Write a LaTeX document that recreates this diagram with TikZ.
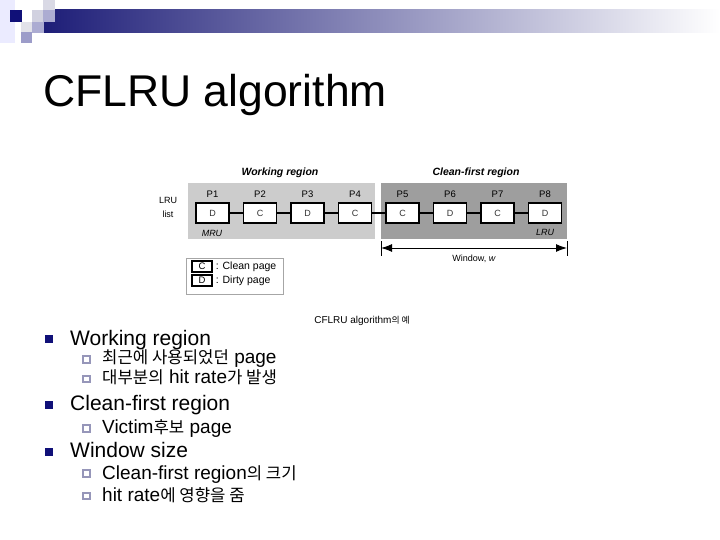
\documentclass[tikz,border=0pt]{standalone}
\usepackage{fontspec}
\setmainfont{Liberation Sans}
\newfontfamily\kr[Scale=0.88]{Noto Sans CJK KR}
\usepackage{tikz}
\usetikzlibrary{arrows.meta, positioning, backgrounds, calc}
\definecolor{barnavy}{RGB}{30,30,120}
\definecolor{barmid}{RGB}{192,192,206}
\definecolor{bulletnavy}{RGB}{16,16,120}
\definecolor{subbullet}{RGB}{150,150,185}
\definecolor{workgray}{RGB}{204,204,204}
\definecolor{cleangray}{RGB}{158,158,158}

\begin{document}
\begin{tikzpicture}[
    x=1pt, y=-1pt,
    node distance=13.3pt,
    page/.style={draw, line width=1.2pt, fill=white, minimum width=33pt, minimum height=20pt, inner sep=0pt, font=\fontsize{9}{10}\selectfont, text=black!80},
    plabel/.style={inner sep=0pt, font=\fontsize{9.5}{11}\selectfont},
    link/.style={line width=1.8pt},
    region/.style={inner sep=0pt, minimum height=56pt},
    rtitle/.style={font=\fontsize{10.5}{12}\selectfont\bfseries\itshape},
    window/.style={{Latex[length=11pt,width=8pt]}-{Latex[length=11pt,width=8pt]}, line width=1pt},
    keybox/.style={draw, line width=1.2pt, minimum width=20pt, minimum height=11pt, inner sep=0pt, font=\fontsize{9.5}{10}\selectfont},
    small/.style={inner sep=0pt, font=\fontsize{9}{10}\selectfont},
    mainbullet/.style={fill=bulletnavy, minimum size=8pt, inner sep=0pt},
    subbul/.style={draw=subbullet, line width=1.8pt, minimum size=6.5pt, inner sep=0pt},
    maintext/.style={anchor=base west, inner sep=0pt, font=\fontsize{21}{24}\selectfont},
    subtext/.style={anchor=base west, inner sep=0pt, font=\fontsize{19}{22}\selectfont}
]
    \useasboundingbox (0,0) rectangle (720,540);

    % Header bar
    \shade[left color=barnavy, middle color=barmid, right color=white] (44,10) rectangle (720,33);
    \fill[blue!8!white] (0,0) rectangle (15,43);
    \fill[bulletnavy] (10,10) rectangle (22,22);
    \fill[blue!20!gray!30] (32,10) rectangle (44,22);
    \fill[blue!20!gray!25] (43,0) rectangle (55,10);
    \fill[blue!30!gray!50] (43,10) rectangle (55,22);
    \fill[blue!15!gray!20] (21,22) rectangle (32,32);
    \fill[blue!30!gray!50] (32,22) rectangle (44,33);
    \fill[blue!30!gray!60] (21,32) rectangle (32,43);

    % Title
    \node[anchor=base west, inner sep=0pt, font=\fontsize{44.5}{50}\selectfont] (title) at (43,107) {CFLRU algorithm};

    % Regions
    \node[region, fill=workgray, minimum width=187pt] (work) at (281.5,211) {};
    \node[region, fill=cleangray, minimum width=186pt] (clean) at (474,211) {};
    \node[rtitle] at (280,173) {Working region};
    \node[rtitle] at (476,173) {Clean-first region};

    % Pages
    \node[page] (p1) at (212.5,213) {D};
    \node[page, right=of p1] (p2) {C};
    \node[page, right=of p2] (p3) {D};
    \node[page, right=of p3] (p4) {C};
    \node[page, right=of p4] (p5) {C};
    \node[page, right=of p5] (p6) {D};
    \node[page, right=of p6] (p7) {C};
    \node[page, right=of p7] (p8) {D};
    \foreach \i in {1,...,8}
        \node[plabel, above=4.5pt of p\i] {P\i};
    \foreach \i/\j in {1/2,2/3,3/4,4/5,5/6,6/7,7/8}
        \draw[link] (p\i) -- (p\j);

    \node[small, font=\fontsize{9}{10}\selectfont\itshape] (mru) at (212,233) {MRU};
    \node[small, font=\fontsize{9}{10}\selectfont\itshape] (lru) at (545,232) {LRU};
    \node[small, align=center, font=\fontsize{9}{14}\selectfont] (lrulist) at (168,207) {LRU\\list};

    % Window
    \coordinate (wl) at (381,248);
    \coordinate (wr) at (567,248);
    \draw[window] (wl) -- (wr) node[small, midway, below=6pt] {Window, \textit{w}};
    \draw[line width=1pt] ($(wl)+(0,-7)$) -- ($(wl)+(0,8)$);
    \draw[line width=1pt] ($(wr)+(0,-7)$) -- ($(wr)+(0,8)$);

    % Legend
    \node[draw=black!35, minimum width=97pt, minimum height=36pt, inner sep=0pt] (legend) at (234.5,276) {};
    \node[keybox] (keyc) at (202,266.5) {C};
    \node[keybox] (keyd) at (202,280.5) {D};
    \node[small, font=\fontsize{10.5}{11}\selectfont, right=3pt of keyc] {: Clean page};
    \node[small, font=\fontsize{10.5}{11}\selectfont, right=3pt of keyd] {: Dirty page};

    % Caption
    \node[small, font=\fontsize{10}{11}\selectfont] (caption) at (362,321) {CFLRU algorithm{\kr 의 예}};

    % Bullets
    \node[mainbullet] (b1) at (49,339) {};
    \node[maintext] at (70,345) {Working region};
    \node[subbul] (s11) at (86.5,359.5) {};
    \node[subtext] at (102,363) {{\kr 최근에 사용되었던} page};
    \node[subbul] (s12) at (86.5,379) {};
    \node[subtext] at (102,383) {{\kr 대부분의} hit rate{\kr 가 발생}};
    \node[mainbullet] (b2) at (49,405) {};
    \node[maintext] at (70,410) {Clean-first region};
    \node[subbul] (s21) at (86.5,428.5) {};
    \node[subtext] at (102,433) {Victim{\kr 후보} page};
    \node[mainbullet] (b3) at (49,451.5) {};
    \node[maintext] at (70,457) {Window size};
    \node[subbul] (s31) at (86.5,473.5) {};
    \node[subtext] at (102,479) {Clean-first region{\kr 의 크기}};
    \node[subbul] (s32) at (86.5,496) {};
    \node[subtext] at (102,501) {hit rate{\kr 에 영향을 줌}};
\end{tikzpicture}
\end{document}
